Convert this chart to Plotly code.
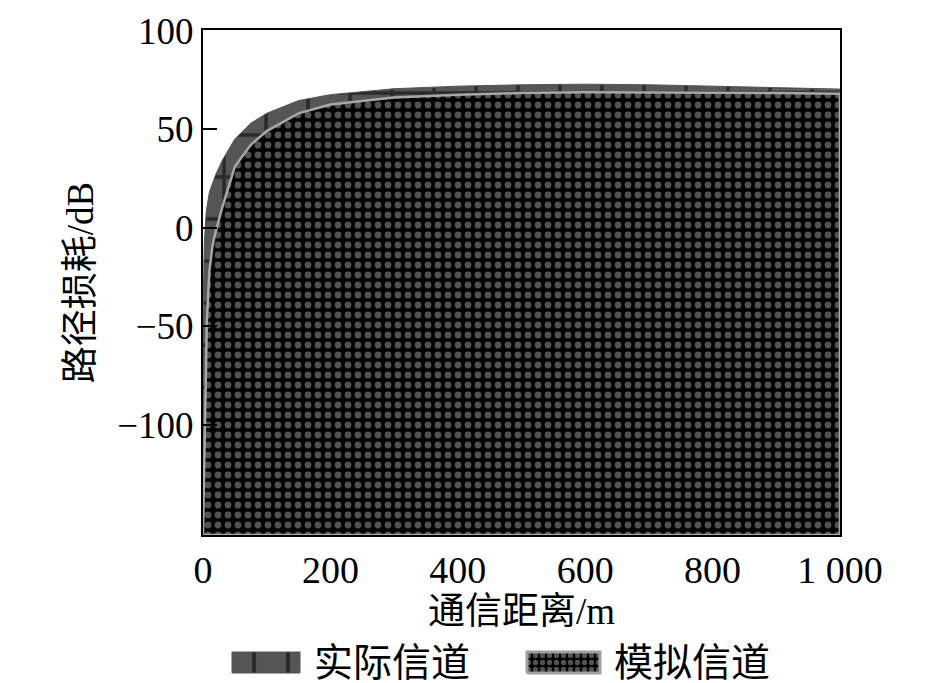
import plotly.graph_objects as go

# Data
actual_x = [0, 1, 2, 5, 10, 20, 30, 50, 75, 100, 150, 200, 300, 400, 500, 600, 700, 800, 900, 1000]
actual_y = [-45, -25, -8, 8, 18, 27, 34, 45, 53, 58, 64.5, 67.5, 70.5, 71.8, 72.5, 72.8, 72.5, 71.8, 71.0, 70.3]

sim_x = [0, 1, 2, 4, 6, 10, 15, 20, 30, 50, 75, 100, 150, 200, 300, 400, 500, 600, 700, 800, 900, 1000]
sim_y = [-156, -135, -114, -70, -48, -22, -9, -2, 10, 31, 42, 49, 58, 62.5, 66, 67.5, 68.3, 68.7, 68.7, 68.5, 68.3, 68.0]

x_ticks = [0, 200, 400, 600, 800, 1000]
x_ticktext = ["0", "200", "400", "600", "800", "1 000"]
y_ticks = [-100, -50, 0, 50, 100]

series_names = ["实际信道", "模拟信道"]

x_range = [0, 1000]
y_range = [-156, 100.3]

# page has an 8px body offset; layout below is in figure pixels
W, H = 945, 683
M_L, M_R, M_T, M_B = 195, 113, 22, 0
PLOT_BOTTOM_PX = 527
LEG_H = 60

font_fam = "Liberation Serif, Noto Sans CJK SC"

actual_style = dict(fillcolor="#555555",
                    fillpattern=dict(shape="+", fgcolor="#000000", bgcolor="#555555", size=42, solidity=0.16),
                    line=dict(color="#555555", width=1))
sim_style = dict(fillcolor="#000000",
                 fillpattern=dict(shape=".", fgcolor="#a4a4a4", bgcolor="#000000", size=10, solidity=0.36),
                 line=dict(color="#a8a8a8", width=2.5))

fig = go.Figure()

fig.add_trace(go.Scatter(
    x=actual_x + [x_range[1], x_range[0]],
    y=actual_y + [y_range[0], y_range[0]],
    mode="lines", fill="toself", name=series_names[0], showlegend=False,
    **actual_style,
))
fig.add_trace(go.Scatter(
    x=sim_x + [x_range[1], x_range[0]],
    y=sim_y + [y_range[0], y_range[0]],
    mode="lines", fill="toself", name=series_names[1], showlegend=False,
    **sim_style,
))

# Custom legend drawn on an auxiliary pixel-scaled axis below the plot
leg_swatches = [(224, 292), (519, 592)]
leg_y = (18, 39)
leg_text_x = [304, 604]
leg_styles = [
    dict(fillcolor="#555555",
         fillpattern=dict(shape="|", fgcolor="#000000", bgcolor="#555555", size=34, solidity=0.12),
         line=dict(color="#555555", width=1)),
    dict(fillcolor="#000000",
         fillpattern=dict(shape=".", fgcolor="#a4a4a4", bgcolor="#000000", size=7, solidity=0.45),
         line=dict(color="#a0a0a0", width=3)),
]
for (x0, x1), st, tx, nm in zip(leg_swatches, leg_styles, leg_text_x, series_names):
    fig.add_trace(go.Scatter(
        x=[x0, x1, x1, x0, x0], y=[leg_y[0], leg_y[0], leg_y[1], leg_y[1], leg_y[0]],
        mode="lines", fill="toself", showlegend=False, hoverinfo="skip",
        xaxis="x2", yaxis="y2", **st,
    ))
    fig.add_annotation(x=tx, y=(leg_y[0] + leg_y[1]) / 2, xref="x2", yref="y2",
                       text=nm, showarrow=False, xanchor="left", yanchor="middle",
                       font=dict(size=39, family=font_fam, color="black"))

plot_h = H - M_T - M_B
main_bottom = (H - M_B - PLOT_BOTTOM_PX) / plot_h
leg_top = LEG_H / plot_h

fig.update_layout(
    width=W, height=H,
    margin=dict(l=M_L, r=M_R, t=M_T, b=M_B, autoexpand=False),
    plot_bgcolor="white", paper_bgcolor="white",
    font=dict(family=font_fam, size=38, color="black"),
    showlegend=False,
    xaxis=dict(
        range=x_range, tickvals=x_ticks, ticktext=x_ticktext,
        showline=True, linecolor="black", linewidth=2, mirror=True,
        showgrid=False, zeroline=False, ticks="",
        title=dict(text="通信距离/m", font=dict(size=37), standoff=0),
        anchor="y", ticklabeloverflow="allow",
    ),
    yaxis=dict(
        domain=[main_bottom, 1],
        range=y_range, tickvals=y_ticks, tickfont=dict(size=37),
        showline=True, linecolor="black", linewidth=2, mirror=True,
        showgrid=False, zeroline=False, ticks="inside", ticklen=14, tickwidth=2, tickcolor="black",
        title=dict(text="路径损耗/dB", font=dict(size=37), standoff=12),
        anchor="x", ticklabeloverflow="allow",
    ),
    xaxis2=dict(domain=[0, 1], range=[M_L, W - M_R], visible=False, anchor="y2", fixedrange=True),
    yaxis2=dict(domain=[0, leg_top], range=[0, LEG_H], visible=False, anchor="x2", fixedrange=True),
)

fig.write_html("out.html")
